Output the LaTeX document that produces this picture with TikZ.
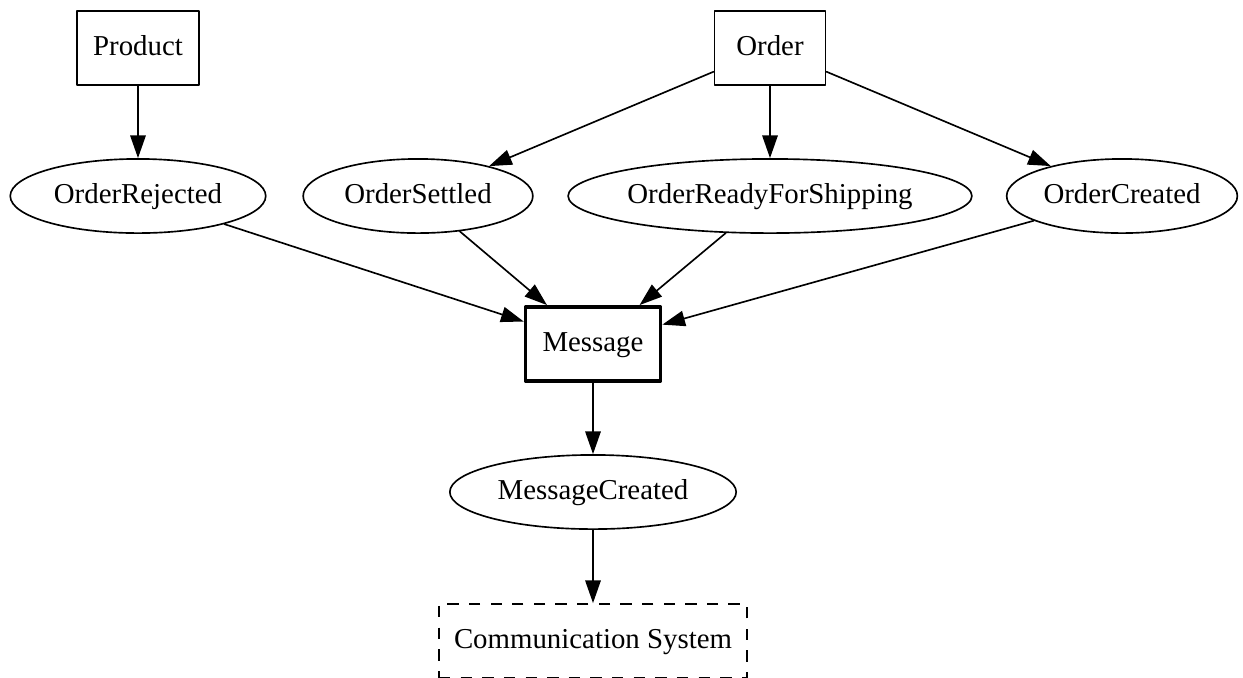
\documentclass[tikz,border=0pt]{standalone}
\usepackage{fontspec}
\setmainfont{Liberation Serif}
\usetikzlibrary{arrows.meta,shapes.geometric}
\begin{document}
\begin{tikzpicture}[x=0.4854pt,y=-0.4854pt,line cap=round,line join=round,
    >={Triangle[length=11pt,width=7.5pt]},
    every path/.style={line width=0.8pt},
    base/.style={draw,inner sep=0pt,minimum height=36pt,text height=10pt,text depth=3pt,
        font=\fontsize{14}{16}\selectfont},
    entity/.style={base,rectangle},
    event/.style={base,ellipse},
    hub/.style={entity,line width=1.8pt},
    extern/.style={entity,line cap=butt,dash pattern=on 5.5pt off 5pt}]
\useasboundingbox (0,0) rectangle (1243,677);
% sources
\node[entity,minimum width=59pt] (Product) at (138,48) {Product};
\node[entity,minimum width=54pt] (Order) at (770,48) {Order};
% events
\node[event,minimum width=124pt] (OrderRejected) at (138,196) {OrderRejected};
\node[event,minimum width=111.5pt] (OrderSettled) at (418,196) {OrderSettled};
\node[event,minimum width=196pt] (OrderReady) at (770,196) {OrderReadyForShipping};
\node[event,minimum width=112pt] (OrderCreated) at (1122,196) {OrderCreated};
% message chain
\node[hub,minimum width=65.5pt] (Message) at (593,344) {Message};
\node[event,minimum width=139pt] (MessageCreated) at (593,492) {MessageCreated};
\node[extern,minimum width=149.5pt] (CommSystem) at (593,641) {Communication System};
\draw[->] (Product)--(OrderRejected);
\draw[->] (Order)--(OrderSettled);
\draw[->] (Order)--(OrderReady);
\draw[->] (Order)--(OrderCreated);
\foreach \ev in {OrderRejected,OrderSettled,OrderReady,OrderCreated}
    \draw[->] (\ev)--(Message);
\draw[->] (Message)--(MessageCreated);
\draw[->] (MessageCreated)--(CommSystem);
\end{tikzpicture}
\end{document}
